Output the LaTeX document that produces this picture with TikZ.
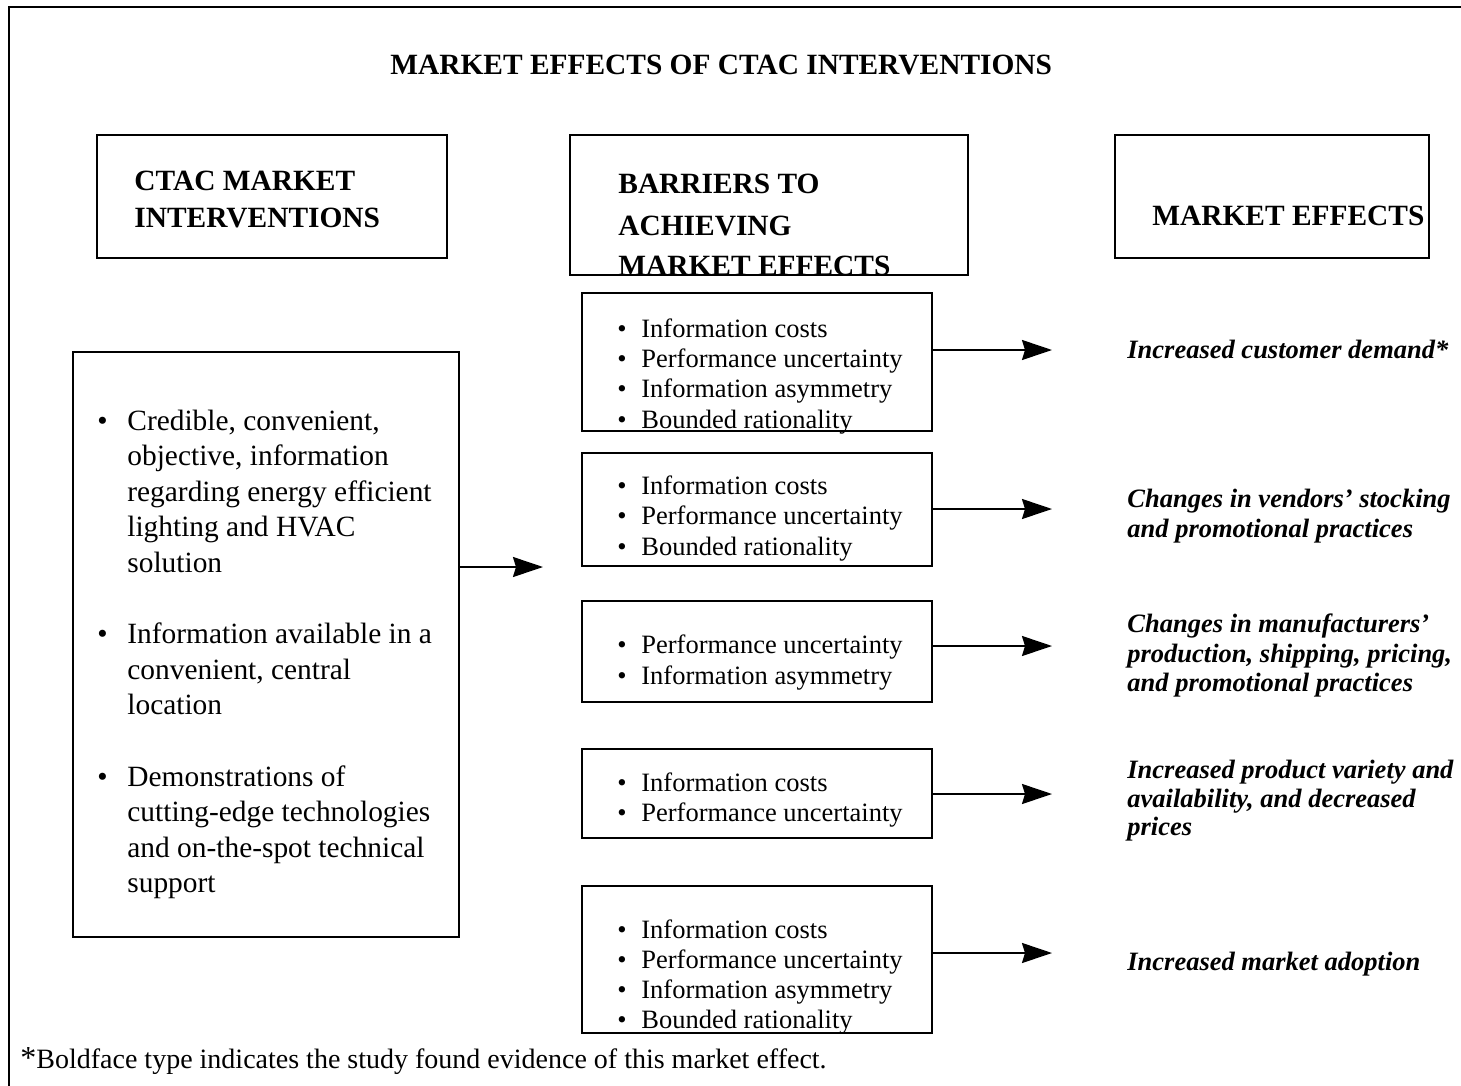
\documentclass[tikz,border=0pt]{standalone}
\usepackage{fontspec}
\setmainfont{Liberation Serif}
\usetikzlibrary{arrows.meta,fit}
\begin{document}
\begin{tikzpicture}[x=0.5pt,y=-0.5pt,
  frame/.style={draw,line width=1.3pt,inner sep=0pt},
  hdr/.style={font=\fontsize{14.7}{17}\selectfont\bfseries,anchor=base west,inner sep=0pt},
  lft/.style={font=\fontsize{14.7}{17}\selectfont,anchor=base west,inner sep=0pt},
  bul/.style={font=\fontsize{13.25}{15}\selectfont,anchor=base west,inner sep=0pt},
  eff/.style={font=\fontsize{13.25}{15}\selectfont\bfseries\itshape,anchor=base west,inner sep=0pt},
  note/.style={font=\fontsize{14}{16}\selectfont,anchor=base west,inner sep=0pt},
  arr/.style={line width=1pt,-{Stealth[length=15pt,width=10pt,inset=1.5pt]}}]
\useasboundingbox (0,0) rectangle (1461,1086);
% outer frame (top and left edges only)
\coordinate (ftl) at (9,7);
\coordinate (ftr) at (1461,7);
\coordinate (fbl) at (9,1086);
\draw[line width=1.2pt] (ftr) -- (ftl) -- (fbl);
% title
\node[hdr] (title) at (390,75) {MARKET EFFECTS OF CTAC INTERVENTIONS};
% header boxes
\node[hdr] (h1a) at (134,191) {CTAC MARKET};
\node[hdr] (h1b) at (134,227) {INTERVENTIONS};
\node[frame,fit={(97,135)(447,258)}] (hbox1) {};
\node[hdr] (h2a) at (618,193) {BARRIERS TO};
\node[hdr] (h2b) at (618,235) {ACHIEVING};
\node[hdr] (h2c) at (618,275) {MARKET EFFECTS};
\node[frame,fit={(570,135)(968,275)}] (hbox2) {};
\node[hdr] (h3a) at (1152,225) {MARKET EFFECTS};
\node[frame,fit={(1115,135)(1429,258)}] (hbox3) {};
% left box
\node[frame,fit={(73,352)(459,937)}] (lbox) {};
\foreach \k/\t in {0/{Credible, convenient,},1/{objective, information},2/{regarding energy efficient},3/{lighting and HVAC},4/solution,
  6/{Information available in a},7/{convenient, central},8/location,
  10/{Demonstrations of},11/{cutting-edge technologies},12/{and on-the-spot technical},13/support}
  \node[lft] (lt\k) at (127,430+35.6*\k) {\t};
\foreach \k in {0,6,10}
  \node[lft] (lb\k) at (97,430+35.6*\k) {\textbullet};
\coordinate (a0) at (543,567);
\draw[arr] (lbox.east |- a0) -- (a0);
% barrier boxes
\newcommand\barl[3]{\node[bul] (#1) at (641,#2) {#3}; \node[bul] (#1d) at (617,#2) {\textbullet};}
\barl{ba1}{337}{Information costs}
\barl{ba2}{367}{Performance uncertainty}
\barl{ba3}{397}{Information asymmetry}
\barl{ba4}{428}{Bounded rationality}
\node[frame,fit={(582,293)(932,431)}] (b1) {};
\barl{bb1}{494}{Information costs}
\barl{bb2}{524.5}{Performance uncertainty}
\barl{bb3}{555}{Bounded rationality}
\node[frame,fit={(582,453)(932,566)}] (b2) {};
\barl{bc1}{653}{Performance uncertainty}
\barl{bc2}{684}{Information asymmetry}
\node[frame,fit={(582,601)(932,702)}] (b3) {};
\barl{bd1}{791}{Information costs}
\barl{bd2}{821}{Performance uncertainty}
\node[frame,fit={(582,749)(932,838)}] (b4) {};
\barl{be1}{938}{Information costs}
\barl{be2}{968}{Performance uncertainty}
\barl{be3}{998}{Information asymmetry}
\barl{be4}{1028}{Bounded rationality}
\node[frame,fit={(582,886)(932,1033)}] (b5) {};
% arrows to effects
\coordinate (e1) at (1052,350);
\coordinate (e2) at (1052,509);
\coordinate (e3) at (1052,646);
\coordinate (e4) at (1052,794);
\coordinate (e5) at (1052,953);
\draw[arr] (b1.east |- e1) -- (e1);
\draw[arr] (b2.east |- e2) -- (e2);
\draw[arr] (b3.east |- e3) -- (e3);
\draw[arr] (b4.east |- e4) -- (e4);
\draw[arr] (b5.east |- e5) -- (e5);
% effects
\node[eff] (m1) at (1127,358) {Increased customer demand*};
\node[eff] (m2a) at (1127,507) {Changes in vendors’ stocking};
\node[eff] (m2b) at (1127,537) {and promotional practices};
\node[eff] (m3a) at (1127,632) {Changes in manufacturers’};
\node[eff] (m3b) at (1127,662) {production, shipping, pricing,};
\node[eff] (m3c) at (1127,691) {and promotional practices};
\node[eff] (m4a) at (1127,778) {Increased product variety and};
\node[eff] (m4b) at (1127,807) {availability, and decreased};
\node[eff] (m4c) at (1127,835) {prices};
\node[eff] (m5) at (1127,970) {Increased market adoption};
% footnote
\node[note] (fn) at (20,1068) {{\fontsize{16}{16}\selectfont *}Boldface type indicates the study found evidence of this market effect.};
\end{tikzpicture}
\end{document}
